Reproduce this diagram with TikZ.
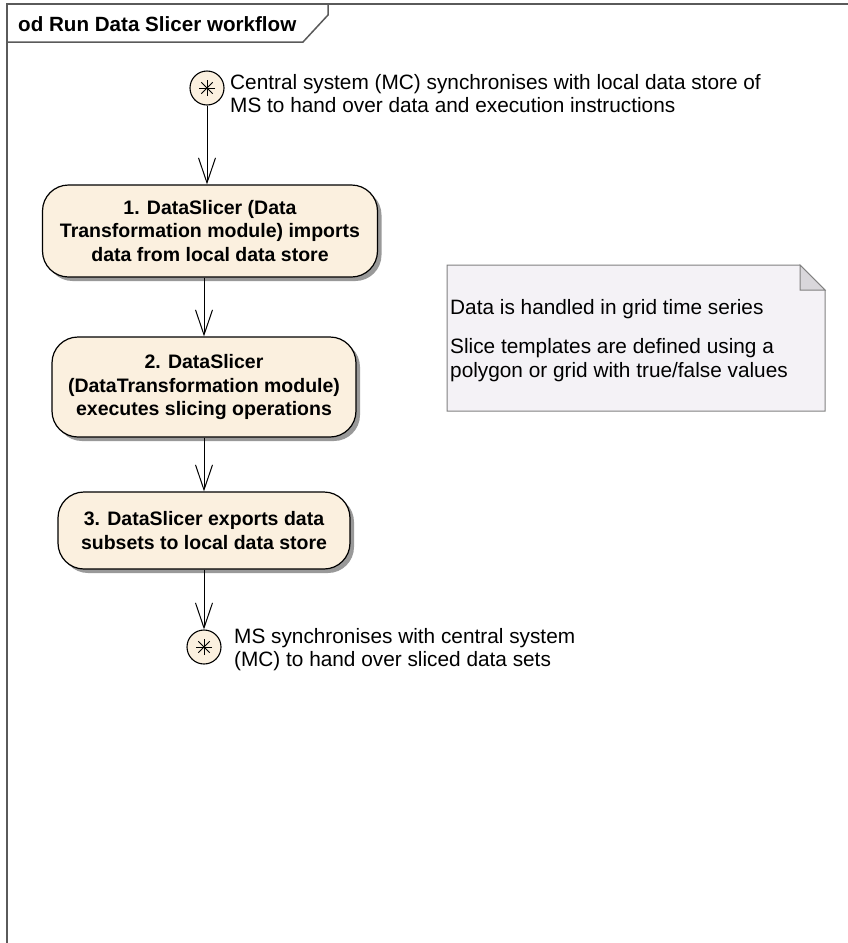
\documentclass[tikz,border=0pt]{standalone}
\usepackage{fontspec}
\setmainfont{Liberation Sans}
\usetikzlibrary{arrows.meta,shadows,calc}

\definecolor{actfill}{HTML}{FBF0DF}
\definecolor{notefill}{HTML}{F4F2F6}
\definecolor{notefold}{HTML}{D9D7DB}
\definecolor{frameline}{HTML}{5A5A5A}

\tikzset{
  actbox/.style={draw=black, line width=1.2pt, fill=actfill, rounded corners=26pt,
    align=center, inner sep=0pt,
    font=\bfseries\fontsize{19.5}{23.5}\selectfont,
    drop shadow={shadow xshift=4pt, shadow yshift=-4pt, fill=black!40, opacity=1}},
  endpoint/.style={circle, draw=black, line width=1.1pt, fill=actfill,
    minimum size=34pt, inner sep=0pt},
  flow/.style={line width=1pt, -{Straight Barb[length=25pt, width=17pt, line width=1pt]}},
  plain/.style={align=left, inner sep=0pt, font=\fontsize{20.8}{23}\selectfont},
  frame/.style={draw=frameline, line width=1.5pt},
}

\begin{document}
\begin{tikzpicture}[x=1pt, y=-1pt]
  \useasboundingbox (0,0) rectangle (848,943);

  % diagram frame with its name tab
  \draw[frame] (7,943) -- (7,4) -- (848,4);
  \draw[frame] (7,42) -- (303,42) -- (328,15) -- (328,4);
  \node[anchor=west, inner sep=0pt, font=\bfseries\fontsize{20.6}{22}\selectfont]
    (title) at (18,24) {od Run Data Slicer workflow};

  % start point and its description
  \node[endpoint] (s) at (207,88) {};
  \foreach \a in {0,45,90,135}
    \draw[line width=1pt] ($(s.center)+(\a:8)$) -- ($(s.center)+(\a+180:8)$);
  \node[plain, anchor=west] (stxt) at (230,94)
    {Central system (MC) synchronises with local data store of\\MS to hand over data and execution instructions};

  % activities
  \node[actbox, minimum width=335pt, minimum height=92pt] (b1) at (210,231)
    {1. DataSlicer (Data\\Transformation module) imports\\data from local data store};
  \node[actbox, minimum width=304pt, minimum height=100pt] (b2) at (204,387)
    {2. DataSlicer\\(DataTransformation module)\\executes slicing operations};
  \node[actbox, minimum width=292pt, minimum height=77pt] (b3) at (204,530.5)
    {3. DataSlicer exports data\\subsets to local data store};

  % end point and its description
  \node[endpoint] (e) at (204,647) {};
  \foreach \a in {0,45,90,135}
    \draw[line width=1pt] ($(e.center)+(\a:8)$) -- ($(e.center)+(\a+180:8)$);
  \node[plain, anchor=west] (etxt) at (234,650)
    {MS synchronises with central system\\(MC) to hand over sliced data sets};

  % control flow
  \draw[flow] (s) -- (s |- b1.north);
  \draw[flow] (b2.north |- b1.south) -- (b2.north);
  \draw[flow] (b2) -- (b3);
  \draw[flow] (b3) -- (e);

  % note with folded corner
  \coordinate (nw) at (447,265);
  \coordinate (se) at (825,411);
  \draw[draw=black!50, line width=1pt, fill=notefill]
    (nw) -- (800,265) -- (825,290) -- (se) -- (447,411) -- cycle;
  \draw[draw=black!50, line width=1pt, fill=notefold]
    (800,265) -- (800,290) -- (825,290) -- cycle;
  \node[plain, anchor=west] (n1) at (450,309) {Data is handled in grid time series};
  \node[plain, anchor=west, font=\fontsize{20.8}{24}\selectfont] (n2) at (450,360)
    {Slice templates are defined using a\\polygon or grid with true/false values};
\end{tikzpicture}
\end{document}
